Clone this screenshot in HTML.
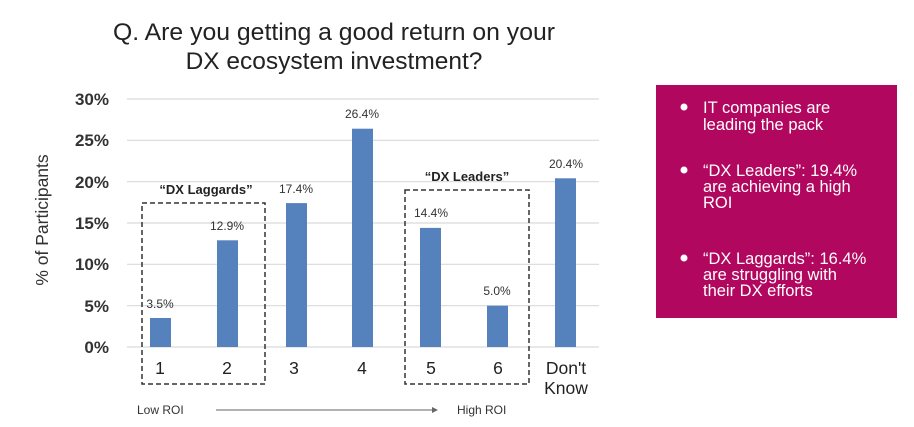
<!DOCTYPE html>
<html><head><meta charset="utf-8"><style>
html,body{margin:0;padding:0;background:#fff;}
svg{display:block;font-family:"Liberation Sans",Arial,sans-serif;}
</style></head><body>
<svg width="914" height="427" viewBox="0 0 914 427" xmlns="http://www.w3.org/2000/svg">
<text x="334" y="40" font-size="24.5" text-anchor="middle" fill="#222" textLength="442" lengthAdjust="spacingAndGlyphs">Q. Are you getting a good return on your</text>
<text x="334" y="69" font-size="24.5" text-anchor="middle" fill="#222">DX ecosystem investment?</text>
<g stroke="#d9d9d9" stroke-width="1.2">
<line x1="127" x2="599" y1="99" y2="99"/><line x1="127" x2="599" y1="140.3" y2="140.3"/>
<line x1="127" x2="599" y1="181.7" y2="181.7"/><line x1="127" x2="599" y1="223" y2="223"/>
<line x1="127" x2="599" y1="264.3" y2="264.3"/><line x1="127" x2="599" y1="305.7" y2="305.7"/>
<line x1="127" x2="599" y1="347" y2="347"/>
</g>
<g font-size="17" font-weight="bold" fill="#333" text-anchor="end">
<text x="109" y="105">30%</text><text x="109" y="146">25%</text><text x="109" y="188">20%</text>
<text x="109" y="229">15%</text><text x="109" y="270">10%</text><text x="109" y="312">5%</text><text x="109" y="353">0%</text>
</g>
<text transform="translate(48,220) rotate(-90)" font-size="17.5" text-anchor="middle" fill="#333">% of Participants</text>
<g fill="#5581bd">
<rect x="150" y="318" width="21" height="29"/>
<rect x="217" y="240.3" width="21" height="106.7"/>
<rect x="286" y="203.1" width="21" height="143.9"/>
<rect x="352" y="128.7" width="21" height="218.3"/>
<rect x="420" y="227.9" width="21" height="119.1"/>
<rect x="487" y="305.7" width="21" height="41.3"/>
<rect x="555" y="178.3" width="21" height="168.7"/>
</g>
<g font-size="12" fill="#333" text-anchor="middle">
<text x="160" y="308">3.5%</text><text x="227" y="230">12.9%</text><text x="296" y="193">17.4%</text>
<text x="362" y="118">26.4%</text><text x="431" y="217">14.4%</text><text x="497" y="295">5.0%</text><text x="566" y="168">20.4%</text>
</g>
<g font-size="17.5" fill="#222" text-anchor="middle">
<text x="160" y="374">1</text><text x="227" y="374">2</text><text x="294" y="374">3</text>
<text x="362" y="374">4</text><text x="431" y="374">5</text><text x="498" y="374">6</text>
<text x="566" y="374">Don't</text><text x="566" y="394">Know</text>
</g>
<g fill="none" stroke="#333" stroke-width="1.5" stroke-dasharray="5,3">
<rect x="142" y="203" width="123" height="181"/>
<rect x="405" y="190" width="124" height="194"/>
</g>
<g font-size="13" font-weight="bold" fill="#222" text-anchor="middle">
<text x="206" y="194">“DX Laggards”</text><text x="467" y="181">“DX Leaders”</text>
</g>
<text x="137" y="414" font-size="12" fill="#333">Low ROI</text>
<line x1="216" y1="410" x2="432" y2="410" stroke="#666" stroke-width="1"/>
<polygon points="432,407 438,410 432,413" fill="#666"/>
<text x="457" y="414" font-size="12" fill="#333">High ROI</text>
<rect x="656" y="85" width="241" height="233" fill="#b2075f"/>
<g fill="#fff" font-size="16.5">
<circle cx="684" cy="107" r="3.5"/><circle cx="684" cy="170" r="3.5"/><circle cx="684" cy="258" r="3.5"/>
<text x="703" y="113">IT companies are</text><text x="703" y="130">leading the pack</text>
<text x="703" y="176">“DX Leaders”: 19.4%</text><text x="703" y="192">are achieving a high</text><text x="703" y="208">ROI</text>
<text x="703" y="264">“DX Laggards”: 16.4%</text><text x="703" y="280">are struggling with</text><text x="703" y="296">their DX efforts</text>
</g>
</svg>
</body></html>
